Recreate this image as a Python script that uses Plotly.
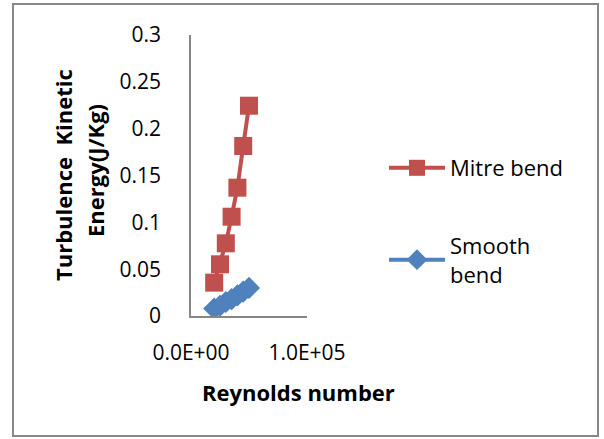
import plotly.graph_objects as go

reynolds = [20000, 25000, 30000, 35000, 40000, 45000, 50000]
mitre_tke = [0.0356, 0.0552, 0.0776, 0.106, 0.137, 0.1815, 0.2245]
smooth_tke = [0.008, 0.011, 0.015, 0.018, 0.022, 0.026, 0.030]

y_ticks = [0, 0.05, 0.1, 0.15, 0.2, 0.25, 0.3]
y_ticktext = ["0", "0.05", "0.1", "0.15", "0.2", "0.25", "0.3"]
x_ticks = [0, 100000]
x_ticktext = ["0.0E+00", "1.0E+05"]

FONT = "Open Sans"
AXIS_COLOR = "#868686"

fig = go.Figure()
fig.add_trace(go.Scatter(
    x=reynolds, y=mitre_tke, name="Mitre bend", mode="lines+markers",
    line=dict(color="#C0504D", width=4),
    marker=dict(symbol="square", size=18, color="#C0504D"),
    legendgroup="a",
))
fig.add_trace(go.Scatter(
    x=reynolds, y=smooth_tke, name="Smooth<br>bend", mode="lines+markers",
    line=dict(color="#4F81BD", width=4),
    marker=dict(symbol="diamond", size=17, color="#4F81BD"),
    legendgroup="b",
))

W, H = 604, 439
L, R, T, B = 191, 307, 35, 316
pw, ph = R - L, B - T

def px(x):
    return (x - L) / pw

def py(y):
    return (B - y) / ph

fig.update_layout(
    width=W, height=H,
    margin=dict(l=L, r=W - R, t=T, b=H - B),
    paper_bgcolor="white", plot_bgcolor="white",
    font=dict(family=FONT, size=21, color="#000000"),
    showlegend=True,
    legend=dict(
        x=px(384), y=py(147), xanchor="left", yanchor="top",
        font=dict(family=FONT, size=22, color="#000000"),
        tracegroupgap=46, traceorder="grouped",
        bgcolor="rgba(0,0,0,0)", itemwidth=56,
    ),
    xaxis=dict(
        range=[0, 100000], tickvals=x_ticks, ticktext=x_ticktext,
        showgrid=False, zeroline=False, showline=True,
        linecolor=AXIS_COLOR, linewidth=1.5, ticks="",
        ticklabelstandoff=17, tickfont=dict(family=FONT, size=21),
    ),
    yaxis=dict(
        range=[0, 0.3], tickvals=y_ticks, ticktext=y_ticktext,
        showgrid=False, zeroline=False, showline=True,
        linecolor=AXIS_COLOR, linewidth=1.5, ticks="",
        ticklabelstandoff=24, tickfont=dict(family=FONT, size=21),
    ),
    shapes=[dict(
        type="rect", xref="paper", yref="paper",
        x0=px(13), x1=px(598), y0=py(436), y1=py(4),
        line=dict(color="#888888", width=2), fillcolor="rgba(0,0,0,0)",
        layer="below",
    )],
    annotations=[
        dict(text="<b>Reynolds number</b>", xref="paper", yref="paper",
             x=px(298), y=py(392), xanchor="center", yanchor="middle",
             showarrow=False, font=dict(family=FONT, size=22)),
        dict(text="<b>Turbulence  Kinetic</b>", xref="paper", yref="paper",
             x=px(63), y=py(175), xanchor="center", yanchor="middle",
             textangle=-90, showarrow=False, font=dict(family=FONT, size=22)),
        dict(text="<b>Energy(J/Kg)</b>", xref="paper", yref="paper",
             x=px(95), y=py(171), xanchor="center", yanchor="middle",
             textangle=-90, showarrow=False, font=dict(family=FONT, size=22)),
    ],
)

fig.write_html("out.html")
